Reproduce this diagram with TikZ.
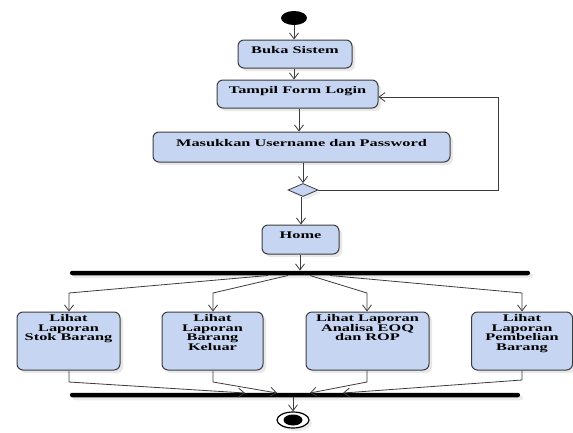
\documentclass[tikz,border=0pt]{standalone}
\usepackage{fontspec}
\setmainfont[FakeStretch=1.6]{Liberation Serif}
\usetikzlibrary{arrows.meta,shapes.geometric,shadows}
\definecolor{actfill}{RGB}{198,214,242}
\definecolor{linecol}{RGB}{60,60,60}
\tikzset{
  actfont/.style={font=\bfseries\fontsize{10.2}{9.6}\selectfont},
  act/.style={draw=linecol, line width=1pt, fill=actfill, rounded corners=6pt,
    drop shadow={shadow xshift=3pt, shadow yshift=-3pt, opacity=0.18},
    actfont, align=center, inner sep=0pt, text depth=8pt},
  lab/.style={actfont, align=center, inner sep=3pt},
  conn/.style={draw=linecol, line width=0.8pt},
  arr/.style={conn, -{Straight Barb[length=6pt,width=9pt]}},
  bar/.style={fill=black, rounded corners=2pt, minimum height=4.5pt, inner sep=0pt,
    drop shadow={shadow xshift=3pt, shadow yshift=-3pt, opacity=0.15}},
}
\begin{document}
\begin{tikzpicture}[x=1pt,y=-1pt]
\useasboundingbox (0,0) rectangle (573,432);
% start
\node[ellipse, fill=black, minimum width=26pt, minimum height=14pt, inner sep=0pt] (start) at (294,18) {};
% activities
\node[act, minimum width=114pt, minimum height=28pt] (buka) at (295,54) {Buka Sistem};
\node[act, minimum width=161pt, minimum height=28pt] (tampil) at (297.5,94) {Tampil Form Login};
\node[act, minimum width=297pt, minimum height=30pt] (masuk) at (301.5,147) {Masukkan Username dan Password};
\node[diamond, draw=linecol, line width=0.8pt, fill=actfill, minimum width=30pt, minimum height=13pt, inner sep=0pt, aspect=2.3,
  drop shadow={shadow xshift=3pt, shadow yshift=-3pt, opacity=0.15}] (dec) at (303,190) {};
\node[act, minimum width=77pt, minimum height=29pt] (home) at (300.5,239.5) {Home};
% fork/join bars
\node[bar, minimum width=460pt] (fork) at (300,273) {};
\node[bar, minimum width=450pt] (join) at (295,395) {};
% lower activities
\node[act, minimum width=103pt, minimum height=58pt,
  label={[lab, anchor=north]north:Lihat\\Laporan\\Stok Barang}] (a1) at (68.5,341) {};
\node[act, minimum width=101pt, minimum height=58pt,
  label={[lab, anchor=north]north:Lihat\\Laporan\\Barang\\Keluar}] (a2) at (212.5,341) {};
\node[act, minimum width=123pt, minimum height=58pt,
  label={[lab, anchor=north]north:Lihat Laporan\\Analisa EOQ\\dan ROP}] (a3) at (367.5,341) {};
\node[act, minimum width=101pt, minimum height=58pt,
  label={[lab, anchor=north]north:Lihat\\Laporan\\Pembelian\\Barang}] (a4) at (522,341) {};
% end
\node[ellipse, draw=black, line width=1.2pt, fill=white, minimum width=32pt, minimum height=16pt, inner sep=0pt,
  drop shadow={shadow xshift=3pt, shadow yshift=-3pt, opacity=0.15}] (end) at (293,420) {};
\node[ellipse, fill=black, minimum width=19pt, minimum height=11pt, inner sep=0pt] (endin) at (end.center) {};
% coordinates
\coordinate (l1) at (498,190);
\coordinate (l2) at (498,97);
\coordinate (f1) at (268,275.5);
\coordinate (f2) at (288,275.5);
\coordinate (f3) at (310,275.5);
\coordinate (f4) at (330,275.5);
\coordinate (b1) at (69,293);
\coordinate (b2) at (213,293);
\coordinate (b3) at (367,293);
\coordinate (b4) at (522,293);
\coordinate (d1) at (69,382);
\coordinate (d2) at (213,382);
\coordinate (d3) at (367,382);
\coordinate (d4) at (522,380);
\coordinate (j1) at (245,393);
\coordinate (j2) at (277,393);
\coordinate (j3) at (310,393);
\coordinate (j4) at (343,393);
% connectors
\draw[arr] (start.south) -- (start.south |- buka.north);
\draw[arr] (buka.south -| start.south) -- (start.south |- tampil.north);
\draw[arr] (tampil.south -| 299,0) -- (299,0 |- masuk.north);
\draw[arr] (masuk.south -| dec.north) -- (dec.north);
\draw[arr] (dec.south -| 301,0) -- (301,0 |- home.north);
\draw[arr] (home.south -| 300,0) -- (300,0 |- fork.north);
\draw[arr] (dec.east) -- (l1) -- (l2) -- (l2 -| tampil.east);
\draw[arr] (f1) -- (b1) -- (b1 |- a1.north);
\draw[arr] (f2) -- (b2) -- (b2 |- a2.north);
\draw[arr] (f3) -- (b3) -- (b3 |- a3.north);
\draw[arr] (f4) -- (b4) -- (b4 |- a4.north);
\draw[arr] (d1 |- a1.south) -- (d1) -- (j1);
\draw[arr] (d2 |- a2.south) -- (d2) -- (j2);
\draw[arr] (d3 |- a3.south) -- (d3) -- (j3);
\draw[arr] (d4 |- a4.south) -- (d4) -- (j4);
\draw[arr] (join.south -| end.north) -- (end.north);
\end{tikzpicture}
\end{document}
